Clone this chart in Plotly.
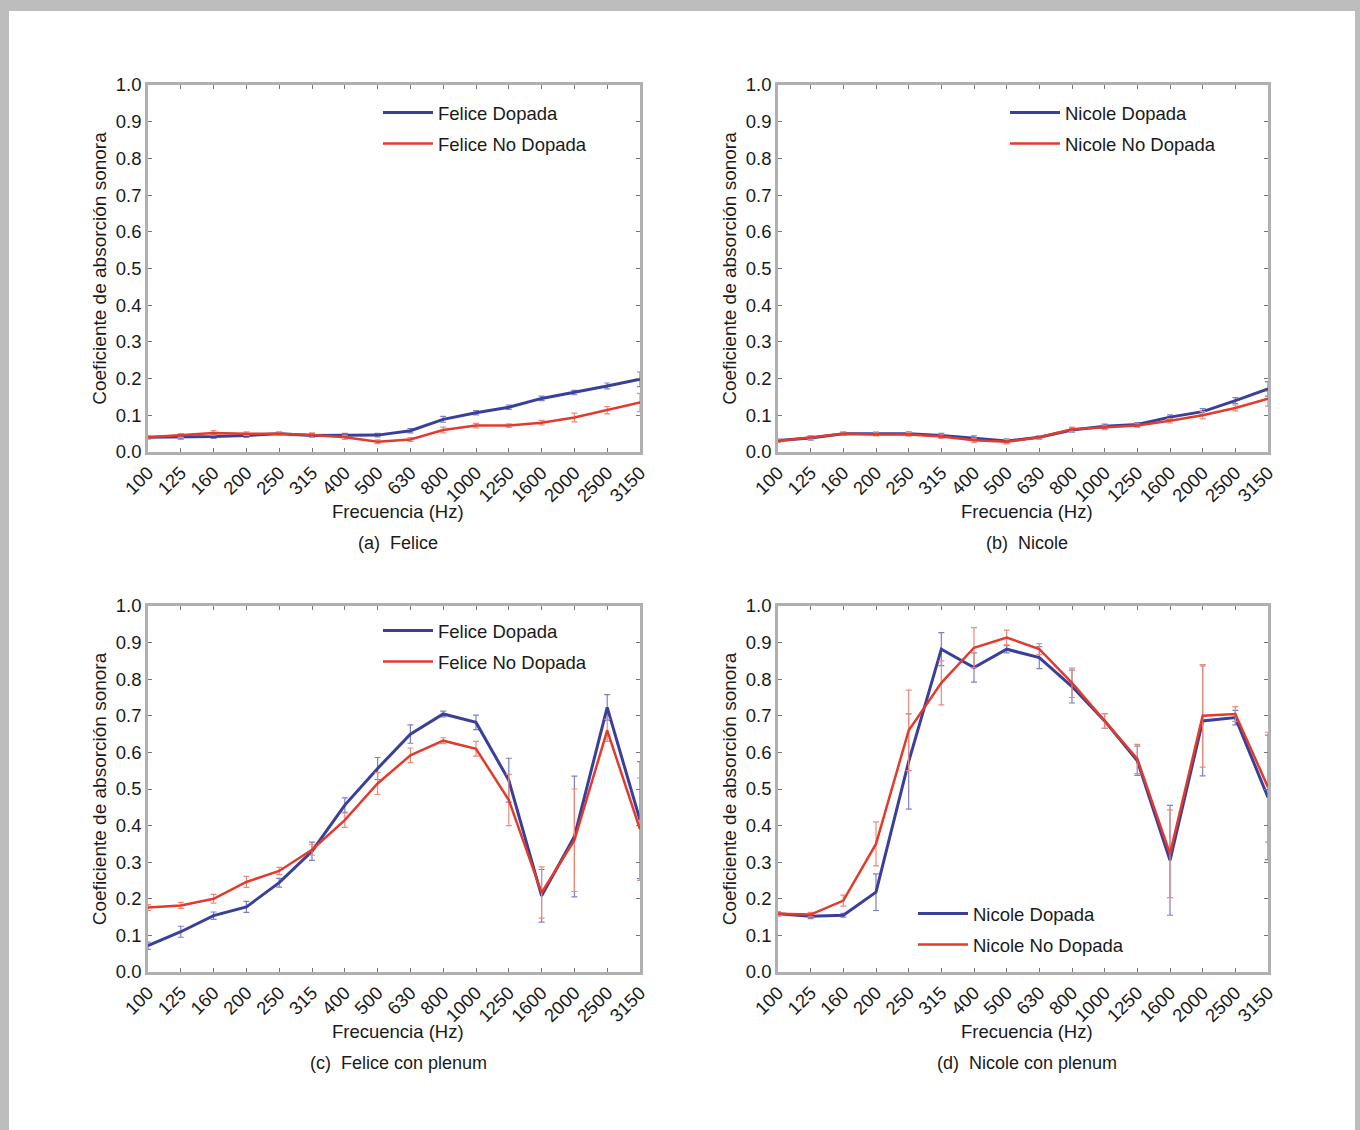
import plotly.graph_objects as go

W, H = 1360, 1130

freqs = ["100", "125", "160", "200", "250", "315", "400", "500", "630", "800",
         "1000", "1250", "1600", "2000", "2500", "3150"]

# (a) Felice
felice_dop = [0.040, 0.040, 0.042, 0.045, 0.050, 0.045, 0.046, 0.046, 0.058, 0.089,
              0.107, 0.122, 0.146, 0.162, 0.180, 0.198]
felice_dop_err = [0.004, 0.005, 0.005, 0.005, 0.004, 0.005, 0.005, 0.005, 0.006, 0.008,
                  0.006, 0.006, 0.006, 0.006, 0.008, 0.020]
felice_nodop = [0.040, 0.045, 0.052, 0.050, 0.050, 0.046, 0.040, 0.028, 0.034, 0.060,
                0.072, 0.072, 0.080, 0.094, 0.114, 0.135]
felice_nodop_err = [0.004, 0.005, 0.006, 0.005, 0.004, 0.006, 0.006, 0.005, 0.005, 0.008,
                    0.006, 0.005, 0.006, 0.012, 0.010, 0.025]

# (b) Nicole
nicole_dop = [0.031, 0.038, 0.050, 0.050, 0.050, 0.045, 0.038, 0.030, 0.040, 0.060,
              0.070, 0.075, 0.095, 0.110, 0.140, 0.172]
nicole_dop_err = [0.004, 0.006, 0.004, 0.004, 0.005, 0.006, 0.006, 0.006, 0.005, 0.006,
                  0.006, 0.005, 0.006, 0.008, 0.008, 0.020]
nicole_nodop = [0.030, 0.040, 0.050, 0.048, 0.048, 0.042, 0.032, 0.028, 0.040, 0.062,
                0.066, 0.072, 0.085, 0.100, 0.120, 0.145]
nicole_nodop_err = [0.004, 0.005, 0.004, 0.004, 0.005, 0.005, 0.006, 0.006, 0.005, 0.006,
                    0.005, 0.005, 0.006, 0.010, 0.008, 0.020]

# (c) Felice con plenum
felicep_dop = [0.072, 0.110, 0.154, 0.178, 0.244, 0.330, 0.456, 0.556, 0.650, 0.705,
               0.682, 0.524, 0.208, 0.370, 0.723, 0.415]
felicep_dop_err = [0.010, 0.015, 0.010, 0.015, 0.012, 0.025, 0.020, 0.030, 0.025, 0.008,
                   0.020, 0.060, 0.072, 0.165, 0.035, 0.160]
felicep_nodop = [0.176, 0.182, 0.200, 0.246, 0.276, 0.334, 0.415, 0.515, 0.592, 0.632,
                 0.610, 0.470, 0.217, 0.360, 0.660, 0.390]
felicep_nodop_err = [0.008, 0.008, 0.012, 0.015, 0.010, 0.015, 0.020, 0.030, 0.020, 0.008,
                     0.020, 0.070, 0.070, 0.140, 0.030, 0.140]

# (d) Nicole con plenum
nicolep_dop = [0.159, 0.152, 0.155, 0.218, 0.575, 0.882, 0.832, 0.882, 0.859, 0.780,
               0.686, 0.577, 0.305, 0.686, 0.695, 0.477]
nicolep_dop_err = [0.006, 0.006, 0.005, 0.050, 0.130, 0.045, 0.040, 0.010, 0.030, 0.045,
                   0.020, 0.040, 0.150, 0.150, 0.020, 0.170]
nicolep_nodop = [0.159, 0.157, 0.195, 0.350, 0.660, 0.790, 0.886, 0.914, 0.882, 0.790,
                 0.686, 0.582, 0.323, 0.700, 0.705, 0.505]
nicolep_nodop_err = [0.006, 0.006, 0.015, 0.060, 0.110, 0.060, 0.055, 0.020, 0.015, 0.040,
                     0.020, 0.040, 0.120, 0.140, 0.020, 0.150]

yticks = [0.0, 0.1, 0.2, 0.3, 0.4, 0.5, 0.6, 0.7, 0.8, 0.9, 1.0]
ytick_text = ["0.0", "0.1", "0.2", "0.3", "0.4", "0.5", "0.6", "0.7", "0.8", "0.9", "1.0"]

BLUE = "#3a3f99"
RED = "#e23b2e"
BLUE_ERR = "#7d80c8"
RED_ERR = "#ef8a78"
FONT = "Liberation Sans, Arial, sans-serif"
TXT = "#1a1a1a"
FS = 18.5

panels = [
    ("(a)  Felice", felice_dop, felice_dop_err, felice_nodop, felice_nodop_err,
     "Felice Dopada", "Felice No Dopada", (148, 640), (85, 452), (378, 94)),
    ("(b)  Nicole", nicole_dop, nicole_dop_err, nicole_nodop, nicole_nodop_err,
     "Nicole Dopada", "Nicole No Dopada", (778, 1268), (85, 452), (1005, 94)),
    ("(c)  Felice con plenum", felicep_dop, felicep_dop_err, felicep_nodop, felicep_nodop_err,
     "Felice Dopada", "Felice No Dopada", (148, 640), (606, 972), (378, 612)),
    ("(d)  Nicole con plenum", nicolep_dop, nicolep_dop_err, nicolep_nodop, nicolep_nodop_err,
     "Nicole Dopada", "Nicole No Dopada", (778, 1268), (606, 972), (913, 895)),
]

fig = go.Figure()
layout = dict(
    width=W, height=H,
    margin=dict(l=0, r=0, t=0, b=0, autoexpand=False),
    paper_bgcolor="#bdbdbd",
    plot_bgcolor="white",
    font=dict(family=FONT, size=FS, color=TXT),
    showlegend=True,
)

annotations = []
for i, (cap, dop, dop_e, nod, nod_e, n1, n2, xpx, ypx, lpos) in enumerate(panels):
    k = i + 1
    xa = "x" if k == 1 else f"x{k}"
    ya = "y" if k == 1 else f"y{k}"
    lg = "legend" if k == 1 else f"legend{k}"
    fig.add_trace(go.Scatter(
        x=freqs, y=dop, mode="lines", name=n1, xaxis=xa, yaxis=ya, legend=lg,
        legendgroup=f"g{k}a",
        line=dict(color=BLUE, width=3),
        error_y=dict(type="data", array=dop_e, color=BLUE_ERR, thickness=1.2, width=3),
    ))
    fig.add_trace(go.Scatter(
        x=freqs, y=nod, mode="lines", name=n2, xaxis=xa, yaxis=ya, legend=lg,
        legendgroup=f"g{k}b",
        line=dict(color=RED, width=2.5),
        error_y=dict(type="data", array=nod_e, color=RED_ERR, thickness=1.2, width=3),
    ))
    xkey = "xaxis" if k == 1 else f"xaxis{k}"
    ykey = "yaxis" if k == 1 else f"yaxis{k}"
    layout[xkey] = dict(
        domain=[xpx[0] / W, xpx[1] / W],
        anchor=ya, type="category", range=[0, len(freqs) - 1],
        automargin=False,
        tickangle=-45, ticks="inside", ticklen=4, tickcolor="#777",
        showline=True, linecolor="#b0b0b0", linewidth=2.5, mirror="allticks",
        showgrid=False, zeroline=False,
        tickfont=dict(size=FS, color=TXT),
    )
    layout[ykey] = dict(
        domain=[(H - ypx[1]) / H, (H - ypx[0]) / H],
        anchor=xa, range=[0, 1],
        automargin=False,
        tickvals=yticks, ticktext=ytick_text,
        ticks="inside", ticklen=4, tickcolor="#777",
        showline=True, linecolor="#b0b0b0", linewidth=2.5, mirror="allticks",
        showgrid=False, zeroline=False,
        tickfont=dict(size=FS, color=TXT),
        title=dict(text="Coeficiente de absorción sonora", font=dict(size=19, color=TXT), standoff=5),
    )
    layout[lg] = dict(
        x=lpos[0] / W, y=(H - lpos[1]) / H, xanchor="left", yanchor="top",
        bgcolor="rgba(0,0,0,0)", borderwidth=0, itemwidth=50,
        font=dict(size=FS, color=TXT), tracegroupgap=4,
    )
    annotations.append(dict(
        text="Frecuencia (Hz)", x=((xpx[0] + xpx[1]) / 2 + 4) / W, y=(H - (ypx[1] + 59)) / H,
        xref="paper", yref="paper", showarrow=False,
        font=dict(size=FS, color=TXT), xanchor="center", yanchor="middle",
    ))
    annotations.append(dict(
        text=cap, x=((xpx[0] + xpx[1]) / 2 + 4) / W, y=(H - (ypx[1] + 91)) / H,
        xref="paper", yref="paper", showarrow=False,
        font=dict(size=18, color=TXT), xanchor="center", yanchor="middle",
    ))

layout["annotations"] = annotations
layout["shapes"] = [dict(
    type="rect", xref="paper", yref="paper",
    x0=9 / W, x1=1355 / W, y0=-0.01, y1=(H - 11) / H,
    fillcolor="white", line=dict(width=0), layer="below",
)]
fig.update_layout(**layout)
fig.write_html(
    "out.html",
    config={"displayModeBar": False},
    post_script="document.body.style.margin='0';document.body.style.background='#bdbdbd';",
)
